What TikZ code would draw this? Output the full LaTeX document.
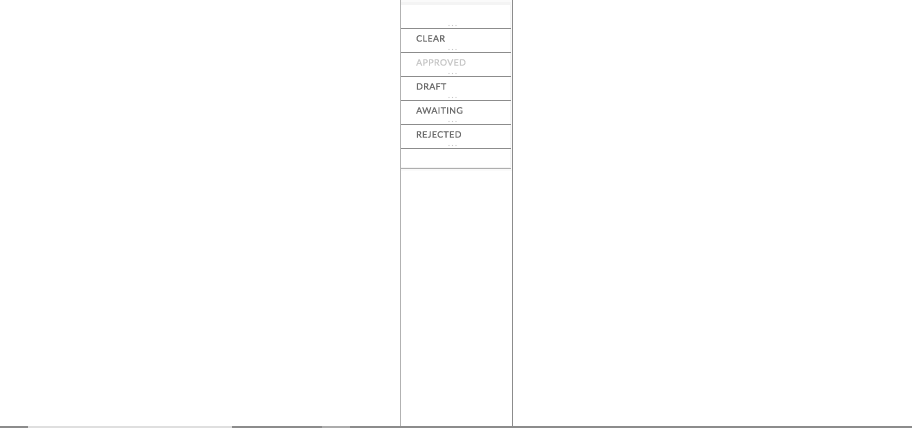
\documentclass[tikz,border=0pt]{standalone}
\usepackage{fontspec}
\setmainfont{Lato}
\newfontfamily\menufont[LetterSpace=5,FakeBold=0.4]{Lato}
\usetikzlibrary{positioning}
\usepackage{xcolor}
\definecolor{menutext}{HTML}{6A6A6A}
\definecolor{menudim}{HTML}{C6C6C6}
\definecolor{menurule}{HTML}{8C8C8C}

\tikzset{
  item/.style={anchor=base west, inner sep=0pt, text=menutext,
    font=\menufont\fontsize{8.8}{10}\selectfont},
  sep/.style={menurule, line width=0.8pt},
  tick/.style={fill=gray!45, draw=none}
}

\begin{document}
\begin{tikzpicture}[x=1pt,y=-1pt]
\useasboundingbox (0,0) rectangle (912,430);
% side rails
\draw [line width=0.7pt, gray!60] (400.5,0) -- (400.5,427);
\draw [line width=0.7pt, gray!90] (512.5,0) -- (512.5,427);
% bottom bar
\draw [line width=1.4pt, gray!90] (0,427) -- (28,427);
\draw [line width=1.4pt, gray!25] (28,427) -- (232,427);
\draw [line width=1.4pt, gray!90] (232,427) -- (322,427);
\draw [line width=1.4pt, gray!65] (322,427) -- (350,427);
\draw [line width=1.4pt, gray!90] (350,427) -- (912,427);

% menu panel with soft shadow
\fill [black, opacity=0.02] (401,0) rectangle (511.5,171);
\fill [black, opacity=0.025] (401,2) rectangle (511,169.5);
\fill [white] (401,5) rectangle (510,167.5);

\foreach \y in {28.5,52.5,76.5,100.5,124.5,148.5}
  \draw [sep] (401,\y) -- (511,\y);
\draw [menurule!70, line width=0.8pt] (401,168) -- (511,168);

\foreach \y in {25.5,49.5,73.5,97.5,121.5,145.5} {
  \fill [tick] (449,\y) circle (0.55);
  \fill [tick] (452.5,\y) circle (0.55);
  \fill [tick] (456,\y) circle (0.55);
}

\node [item] (clear) at (416,41.6) {CLEAR};
\node [item, text=menudim] (approved) at (416,65.6) {APPROVED};
\node [item] (draft) at (416,89.6) {DRAFT};
\node [item] (awaiting) at (416,113.6) {AWAITING};
\node [item] (rejected) at (416,137.6) {REJECTED};

\end{tikzpicture}
\end{document}
